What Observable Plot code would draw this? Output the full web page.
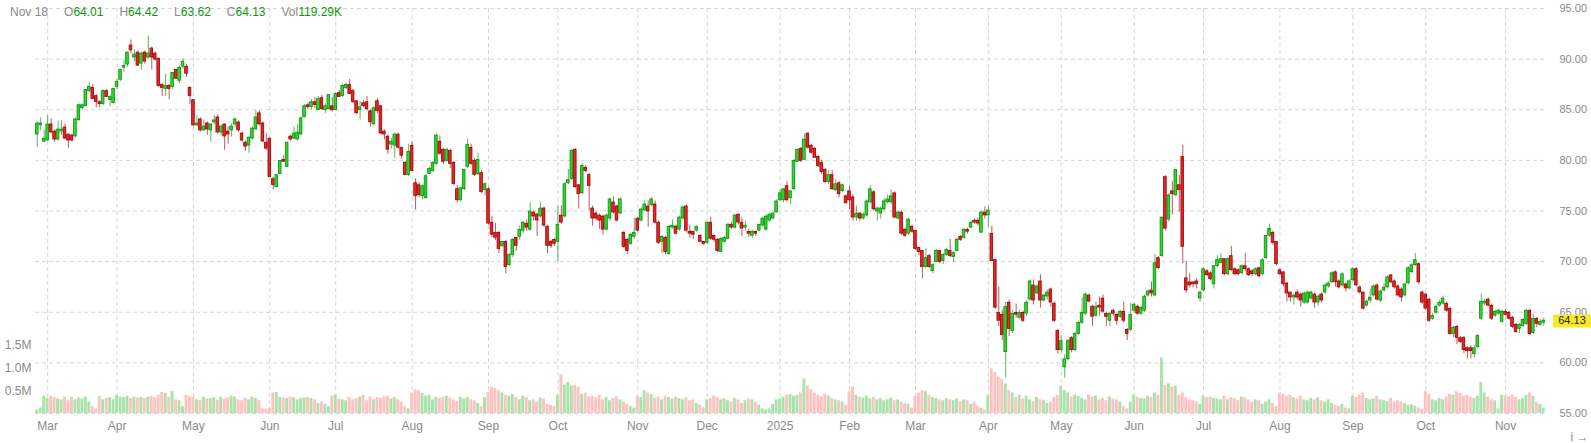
<!DOCTYPE html>
<html><head><meta charset="utf-8">
<script src="https://cdn.jsdelivr.net/npm/d3@7"></script>
<script src="https://cdn.jsdelivr.net/npm/@observablehq/plot@0.6"></script>
<style>
body{margin:0;background:#fff;font-family:Arial,"Liberation Sans",sans-serif;}
#wrap{position:relative;width:1591px;height:443px;}
#legend{position:absolute;left:10px;top:5px;font-size:12px;color:#8a8a8a;white-space:nowrap;}
#legend .k{margin-left:16px;}
#legend .v{color:#0a9a0a;}
</style></head><body><div id="wrap"><div id="legend"></div></div>
<script>
// Daily candles [open, high, low, close] per month
const feb24 = [[82.6,83.8,81.3,83.6],[83.5,84.2,82.9,83.6],[81.9,83.0,81.7,82.1]];
const mar24 = [[82.0,84.4,81.9,83.5],[83.5,84.1,82.6,82.8],[82.8,83.0,81.8,82.1],[82.1,83.9,81.9,83.0],[82.9,83.9,82.5,83.0],[83.2,83.6,82.0,82.2],[82.5,82.6,81.2,82.0],[82.4,82.6,81.8,82.0],[82.4,84.2,82.2,84.0],[84.0,85.6,83.9,85.4],[85.2,85.6,85.0,85.4],[85.4,87.0,85.3,86.9],[86.9,87.7,86.7,87.2],[87.1,87.5,86.0,86.1],[86.3,86.5,85.2,85.8],[85.7,85.9,85.2,85.6],[85.6,87.0,85.4,86.8],[86.8,87.0,86.2,86.3],[86.0,86.4,85.3,86.2],[85.7,87.1,85.6,87.0]];
const apr24 = [[87.3,88.0,87.0,87.7],[88.0,89.0,87.8,88.9],[89.2,89.9,88.7,89.3],[89.5,90.7,89.2,90.6],[91.3,91.9,90.5,90.9],[90.2,90.9,89.7,90.4],[90.6,90.8,89.3,89.4],[89.6,90.7,88.9,90.5],[90.6,90.8,89.5,89.8],[90.2,92.3,90.0,90.5],[91.0,91.2,88.9,90.2],[90.5,90.7,89.8,90.0],[90.0,90.1,87.2,87.4],[87.4,87.6,86.3,87.2],[87.1,88.5,86.3,87.3],[87.3,87.5,86.0,87.1],[87.3,88.6,87.0,88.6],[88.9,89.0,88.0,88.1],[87.9,89.3,87.6,89.1],[89.3,90.0,89.0,89.7],[89.2,89.5,88.2,88.6],[87.1,87.3,85.5,86.4]];
const may24 = [[85.9,86.0,83.3,83.5],[83.5,84.4,83.3,83.6],[84.0,84.2,82.8,83.0],[83.0,84.0,82.9,83.3],[83.6,83.8,82.5,83.1],[83.0,83.6,81.8,83.5],[83.8,84.4,83.5,83.9],[84.2,84.5,82.6,82.8],[82.8,83.5,82.4,83.3],[83.5,83.6,81.0,82.4],[82.8,83.3,81.6,82.6],[83.0,83.6,82.3,83.3],[83.6,84.2,83.2,84.0],[83.7,83.9,82.8,83.0],[82.6,82.8,81.8,82.0],[81.7,81.9,80.9,81.4],[81.5,82.3,80.7,82.2],[82.2,83.3,82.0,83.1],[83.1,84.9,83.0,84.2],[84.6,84.9,83.4,83.6],[83.6,83.8,81.8,81.9],[81.7,82.6,81.0,81.2]];
const jun24 = [[82.1,82.2,78.3,78.4],[78.1,78.3,77.1,77.6],[77.4,78.6,77.3,78.5],[78.7,80.0,78.6,79.9],[80.0,80.5,79.8,79.9],[79.4,81.8,79.3,81.7],[82.3,82.5,81.9,82.1],[82.2,83.3,82.0,82.6],[82.1,83.5,81.9,82.7],[82.6,84.3,82.4,84.1],[84.3,85.5,84.2,85.3],[85.4,85.7,85.0,85.3],[85.3,86.0,85.0,85.7],[85.7,86.2,85.1,85.5],[85.0,86.3,84.9,86.0],[86.1,86.4,84.9,85.1],[85.0,85.6,84.6,85.3],[85.1,86.5,85.0,86.4],[85.3,86.2,84.8,85.0]];
const jul24 = [[85.0,86.7,84.9,86.5],[86.6,86.9,86.2,86.3],[86.4,87.5,86.2,87.3],[87.2,87.6,87.0,87.4],[87.4,88.0,86.5,86.6],[86.8,87.0,85.6,85.8],[85.8,85.9,84.5,84.7],[85.0,85.8,84.0,85.2],[85.6,85.9,85.2,85.4],[85.7,86.3,84.9,85.1],[84.8,85.0,83.3,83.8],[83.6,85.3,83.4,85.1],[85.8,86.1,84.6,84.9],[85.3,85.4,82.5,82.7],[82.8,83.0,82.0,82.6],[82.3,82.5,80.6,81.1],[81.6,82.2,81.1,81.8],[81.5,82.7,80.2,82.5],[82.5,82.7,81.1,81.3],[81.2,81.3,80.1,80.5],[79.7,79.9,78.5,78.6],[78.6,81.6,78.4,80.8]];
const aug24 = [[81.4,81.8,78.9,79.0],[77.7,78.2,75.1,76.5],[77.5,77.8,76.3,76.6],[76.5,77.6,76.1,77.4],[76.3,78.6,76.2,78.4],[78.7,79.3,78.6,79.1],[79.0,79.9,78.8,79.7],[79.7,82.6,79.5,82.4],[81.8,82.4,80.5,80.7],[81.0,81.2,79.6,79.9],[80.0,81.2,79.8,81.0],[80.9,81.1,79.2,79.7],[79.7,79.9,77.5,77.7],[77.1,77.5,75.8,76.1],[76.1,77.3,75.9,77.2],[77.2,79.1,77.0,79.0],[79.4,82.1,79.2,81.5],[81.2,81.6,79.5,79.7],[79.9,80.2,78.4,78.6],[78.7,80.7,78.5,80.0],[78.7,79.0,76.7,76.9],[77.1,77.8,76.5,77.6]];
const sep24 = [[77.1,77.3,73.6,73.8],[73.8,74.5,72.4,72.7],[72.8,73.8,72.1,72.4],[72.8,73.0,70.8,71.3],[71.6,72.0,71.4,71.9],[71.9,72.1,68.8,69.5],[69.7,70.8,69.5,70.6],[70.7,72.3,70.4,72.1],[72.3,72.4,71.0,71.6],[72.5,73.5,72.1,73.1],[73.1,74.0,72.8,73.8],[73.7,74.1,73.0,73.4],[73.2,75.8,73.0,74.9],[74.8,75.0,74.0,74.5],[74.6,74.8,72.5,74.1],[74.5,75.9,74.3,75.2],[75.2,75.4,73.4,73.6],[73.4,73.6,70.8,71.6],[71.9,72.1,71.3,71.6],[72.1,72.3,71.5,71.8]];
const oct24 = [[72.0,75.5,70.0,73.6],[74.5,75.5,73.7,73.9],[74.5,77.8,74.3,77.6],[77.8,79.1,77.6,78.0],[78.2,81.1,78.0,80.9],[81.0,81.2,77.2,77.4],[77.5,77.6,75.2,76.7],[76.8,79.7,76.6,79.4],[79.2,79.5,78.8,79.0],[78.5,78.7,75.0,77.5],[75.2,75.5,73.5,74.3],[74.7,74.9,74.0,74.3],[74.5,74.7,73.2,74.1],[74.4,74.6,72.6,73.2],[73.2,74.7,73.0,74.5],[74.3,76.3,74.0,76.1],[75.8,76.4,74.7,74.9],[75.4,75.6,73.9,74.1],[74.8,76.3,74.6,76.1],[72.8,73.0,71.3,71.5],[72.1,72.3,70.7,71.1],[71.8,72.8,71.6,72.6],[72.5,74.3,72.2,72.8]];
const nov24 = [[74.2,74.4,72.9,73.1],[74.1,75.3,73.9,75.1],[75.1,76.1,75.0,75.6],[75.4,76.0,73.4,75.0],[75.6,76.3,75.4,76.1],[75.6,76.0,73.7,73.9],[73.8,74.0,71.7,71.9],[72.0,72.6,70.8,72.4],[72.3,72.5,70.7,71.0],[70.8,73.6,70.6,73.4],[73.4,74.1,73.2,73.5],[73.4,73.6,72.6,72.8],[73.2,74.5,73.0,74.3],[74.3,75.5,74.1,75.3],[75.4,75.6,72.9,73.1],[72.9,73.6,72.3,72.8],[72.9,73.0,72.2,72.7],[73.1,73.5,72.9,73.4],[72.5,72.7,71.9,72.0],[71.9,72.0,71.6,71.8]];
const dec24 = [[71.9,73.9,71.7,73.8],[73.8,74.4,72.1,72.3],[72.5,72.6,71.9,72.2],[72.1,72.3,70.9,71.1],[71.0,72.4,70.9,72.2],[72.0,72.5,71.8,72.3],[72.3,73.8,72.2,73.6],[73.6,73.9,73.2,73.4],[73.4,74.7,73.2,74.5],[74.6,74.7,73.6,73.9],[73.8,74.3,72.5,73.3],[73.4,74.0,73.0,73.5],[72.9,73.2,72.4,72.8],[72.6,73.1,72.3,72.9],[72.9,73.0,72.5,72.8],[73.1,73.7,73.0,73.6],[73.6,74.4,73.4,74.2],[73.2,74.6,73.0,74.4],[74.1,74.8,73.9,74.6],[74.3,74.9,74.1,74.7],[74.9,76.1,74.8,75.9]];
const jan25 = [[76.1,77.1,75.9,76.7],[76.1,77.2,75.8,77.1],[77.4,77.9,75.9,76.1],[76.3,77.0,75.6,76.9],[77.2,80.1,77.0,79.9],[79.9,81.1,79.8,81.0],[81.1,81.3,79.8,80.0],[80.1,82.6,80.0,82.0],[82.6,82.7,81.1,81.3],[81.4,81.6,80.6,80.8],[81.1,81.3,80.2,80.3],[80.3,80.5,79.3,79.5],[79.7,80.0,78.6,78.9],[79.0,79.2,77.7,77.9],[77.9,79.0,77.6,78.5],[78.5,79.0,77.0,77.2],[77.1,78.1,76.9,77.6],[77.7,77.9,76.3,76.7],[77.0,77.6,76.8,77.5],[76.4,76.6,75.7,75.8]];
const feb25 = [[76.9,77.4,75.1,76.1],[76.3,76.6,74.0,74.4],[74.4,75.5,74.0,74.7],[74.7,74.9,74.0,74.3],[74.3,74.8,74.1,74.6],[74.6,76.1,74.4,75.9],[75.9,77.5,75.7,77.1],[76.8,77.0,75.0,75.2],[75.0,75.4,74.0,75.2],[74.8,75.4,74.2,75.2],[75.2,76.2,75.0,75.9],[75.9,76.6,75.7,76.1],[75.9,77.1,75.6,76.4],[76.7,76.9,74.2,74.4],[74.3,75.0,74.1,74.8],[74.8,75.0,72.6,72.8],[73.1,73.3,72.4,72.6],[72.8,74.3,72.6,74.1],[73.4,73.6,72.8,73.0]];
const mar25 = [[73.0,73.1,71.1,71.3],[71.3,71.4,70.6,71.0],[71.0,71.1,68.3,69.5],[69.5,71.3,69.3,70.3],[70.5,70.7,69.3,69.5],[69.1,69.8,68.8,69.6],[70.0,71.2,69.9,71.0],[71.0,71.1,69.8,70.0],[70.1,70.8,69.7,70.6],[70.7,71.3,70.5,71.1],[71.0,72.2,70.4,70.6],[70.5,71.0,69.9,70.8],[71.1,72.3,71.0,72.1],[72.4,72.6,72.0,72.2],[72.4,73.3,72.2,73.1],[73.1,73.3,72.7,73.0],[73.4,74.0,73.3,73.8],[74.0,74.2,73.7,73.9],[74.0,74.3,73.5,73.8],[72.9,75.0,72.8,74.8],[74.8,75.4,74.2,74.6]];
const apr25 = [[74.6,75.4,73.4,75.0],[72.7,73.5,70.0,70.1],[70.1,70.2,65.3,65.5],[64.9,67.5,63.6,64.2],[64.7,65.2,62.2,62.8],[61.1,66.0,58.5,65.5],[65.9,66.2,62.6,63.4],[63.2,65.2,62.9,64.8],[64.9,65.8,64.4,64.8],[64.5,65.2,64.3,64.9],[64.9,65.1,64.0,64.2],[64.9,66.1,64.6,65.9],[66.3,68.2,66.1,68.0],[67.6,68.2,65.7,66.2],[66.9,67.7,66.7,67.5],[68.0,68.7,65.4,66.2],[66.2,66.8,66.0,66.6],[66.6,67.2,66.2,66.9],[67.2,67.4,65.5,66.0],[65.8,66.0,64.0,64.2],[63.1,63.3,60.9,61.3]];
const may25 = [[61.3,62.7,61.0,62.1],[59.6,60.8,58.5,60.3],[60.4,62.3,60.2,62.1],[62.4,62.6,61.0,61.3],[61.3,63.0,61.1,62.8],[62.9,64.1,62.7,63.9],[64.0,66.4,63.8,64.9],[64.9,66.9,64.7,66.7],[66.6,66.8,65.9,66.1],[65.5,65.7,63.6,64.6],[64.7,66.0,64.5,65.5],[65.6,66.5,64.6,65.5],[66.3,66.7,64.9,65.1],[64.8,65.0,63.6,64.6],[64.2,65.0,63.6,64.8],[65.1,65.3,64.6,64.9],[64.7,64.9,63.7,64.2],[64.6,65.2,64.4,65.0],[65.0,66.0,63.9,64.2],[63.2,63.4,62.2,62.9],[63.3,65.9,63.1,64.7]];
const jun25 = [[65.2,65.9,64.9,65.7],[65.5,65.7,64.7,64.9],[64.9,65.6,64.7,65.4],[65.2,66.7,65.0,66.5],[66.7,67.2,66.5,67.0],[67.1,68.0,66.5,66.9],[66.7,70.7,66.5,69.8],[70.3,70.5,69.2,69.4],[70.6,74.4,70.4,74.3],[78.3,78.5,73.0,73.3],[74.2,76.7,73.9,76.5],[76.9,77.9,74.6,76.7],[76.6,79.1,76.4,79.0],[77.5,78.5,74.9,77.1],[80.3,81.5,69.8,71.5],[68.3,70.0,66.9,67.2],[67.9,68.8,67.4,67.7],[67.9,68.0,67.4,67.8],[68.0,68.3,67.3,67.8],[66.4,67.1,66.0,66.9]];
const jul25 = [[67.2,69.4,67.0,69.2],[69.0,69.2,68.5,68.7],[68.8,69.0,68.1,68.3],[67.8,69.6,67.3,69.5],[69.6,70.6,69.4,70.1],[69.9,70.8,69.8,70.2],[70.2,70.3,68.6,68.8],[68.8,70.4,68.6,70.2],[70.5,71.5,69.0,69.2],[69.2,69.4,68.6,68.8],[69.1,69.3,68.6,68.8],[68.9,69.7,68.7,69.5],[69.5,70.8,69.0,69.3],[69.2,69.4,68.5,68.7],[69.0,69.2,68.5,68.8],[68.8,69.4,68.6,69.2],[69.3,69.4,68.4,68.6],[68.8,70.3,68.6,70.1],[70.4,72.6,70.2,72.5],[72.6,73.7,72.4,73.2],[72.8,73.0,71.6,71.9],[71.9,72.0,69.6,69.8]];
const aug25 = [[69.1,69.3,68.6,68.8],[68.9,69.0,67.5,67.8],[67.8,67.9,66.0,66.9],[66.9,67.0,66.0,66.5],[66.5,66.8,65.7,66.6],[66.9,67.2,66.2,66.5],[66.7,66.9,65.5,66.2],[66.0,67.0,65.8,66.8],[66.0,67.1,65.8,66.9],[66.4,67.1,66.2,66.9],[66.7,66.9,65.4,66.0],[66.0,66.7,65.6,66.5],[66.7,66.9,65.9,66.2],[67.0,67.8,66.8,67.6],[67.6,68.0,67.4,67.8],[68.0,69.0,67.8,68.8],[68.9,69.1,67.5,68.0],[68.0,68.2,67.3,67.5],[67.7,68.9,67.5,68.7],[67.7,67.9,67.0,67.4],[67.4,68.2,67.2,68.0]];
const sep25 = [[68.2,69.4,68.0,69.2],[69.2,69.4,67.5,67.7],[67.4,67.6,66.8,67.0],[66.9,67.0,65.2,65.4],[65.7,66.2,65.5,66.0],[66.2,67.3,65.9,66.4],[66.7,67.7,66.5,67.5],[67.6,67.8,66.1,66.3],[66.2,67.2,65.9,67.0],[67.2,67.8,67.0,67.4],[67.5,68.6,67.3,68.4],[68.6,68.7,67.8,68.0],[68.0,68.2,67.3,67.5],[67.5,67.7,66.5,66.7],[67.2,67.4,66.0,66.5],[66.7,67.9,66.5,67.7],[67.9,69.5,67.7,69.3],[69.0,69.8,68.8,69.6],[69.7,70.8,69.5,70.1],[69.7,69.9,67.7,68.0],[66.9,67.1,65.8,66.0]];
const oct25 = [[66.7,66.9,65.2,65.4],[66.2,66.4,64.0,64.2],[64.4,64.9,64.2,64.6],[65.0,65.7,64.8,65.5],[65.7,66.2,65.5,65.9],[65.9,66.6,65.7,66.3],[65.8,66.0,65.0,65.2],[65.3,65.5,62.7,62.9],[62.9,63.6,62.5,63.4],[63.5,63.7,61.8,62.5],[62.4,62.6,61.9,62.1],[62.4,62.6,60.9,61.3],[61.4,61.6,60.4,61.2],[61.4,61.7,60.4,61.2],[60.9,61.7,60.5,61.4],[61.6,62.8,61.4,62.6],[64.4,66.8,64.2,66.0],[65.9,66.3,65.6,66.0],[66.2,66.4,65.5,65.7],[65.6,65.8,64.2,64.4],[64.7,65.2,64.5,65.0],[64.9,65.3,64.7,65.1],[64.1,65.2,63.9,65.0]];
const nov25 = [[65.0,65.3,64.6,64.8],[64.9,65.1,64.2,64.4],[64.4,64.6,63.4,63.6],[63.7,63.9,62.9,63.1],[63.4,63.9,62.9,63.7],[63.7,64.4,63.5,64.2],[63.9,65.3,63.7,65.1],[65.1,65.3,62.7,62.9],[63.0,64.8,62.8,64.3],[64.3,64.5,63.5,63.9],[63.8,64.3,63.6,64.0],[64.01,64.42,63.62,64.13]];

// Daily volume per month, millions of shares
const volFeb24 = [0.08,0.12,0.38];
const volMar24 = [0.33,0.38,0.35,0.32,0.30,0.36,0.28,0.35,0.30,0.34,0.32,0.36,0.25,0.15,0.10,0.38,0.30,0.33,0.35,0.30];
const volApr24 = [0.40,0.36,0.35,0.38,0.33,0.36,0.34,0.35,0.33,0.36,0.38,0.35,0.40,0.46,0.44,0.35,0.48,0.30,0.28,0.15,0.40,0.37];
const volMay24 = [0.35,0.30,0.28,0.36,0.32,0.33,0.35,0.30,0.36,0.32,0.34,0.38,0.36,0.30,0.28,0.34,0.30,0.36,0.33,0.28,0.10,0.10];
const volJun24 = [0.12,0.45,0.46,0.35,0.34,0.33,0.36,0.35,0.30,0.33,0.34,0.35,0.33,0.30,0.22,0.25,0.20,0.15,0.38];
const volJul24 = [0.40,0.32,0.30,0.28,0.35,0.30,0.33,0.36,0.40,0.28,0.36,0.30,0.35,0.33,0.36,0.38,0.32,0.35,0.30,0.25,0.15,0.10];
const volAug24 = [0.45,0.52,0.50,0.44,0.38,0.40,0.30,0.36,0.33,0.35,0.38,0.34,0.30,0.26,0.36,0.32,0.35,0.30,0.28,0.22,0.15,0.35];
const volSep24 = [0.46,0.58,0.55,0.50,0.45,0.40,0.38,0.42,0.36,0.30,0.38,0.35,0.28,0.30,0.25,0.34,0.32,0.20,0.18,0.15];
const volOct24 = [0.40,0.85,0.62,0.68,0.60,0.62,0.58,0.42,0.45,0.36,0.38,0.34,0.40,0.30,0.35,0.28,0.33,0.36,0.30,0.25,0.20,0.15,0.12];
const volNov24 = [0.38,0.35,0.50,0.45,0.42,0.33,0.36,0.30,0.38,0.35,0.32,0.36,0.33,0.30,0.34,0.28,0.30,0.22,0.18,0.12];
const volDec24 = [0.30,0.33,0.38,0.35,0.30,0.32,0.28,0.25,0.33,0.30,0.22,0.28,0.32,0.30,0.25,0.18,0.10,0.08,0.10,0.20,0.30];
const volJan25 = [0.32,0.36,0.40,0.42,0.38,0.40,0.45,0.76,0.60,0.52,0.45,0.40,0.36,0.42,0.38,0.33,0.30,0.28,0.25,0.18];
const volFeb25 = [0.48,0.58,0.40,0.36,0.34,0.38,0.32,0.36,0.30,0.33,0.28,0.30,0.34,0.28,0.30,0.25,0.22,0.20,0.12];
const volMar25 = [0.38,0.45,0.50,0.48,0.40,0.35,0.33,0.30,0.28,0.33,0.30,0.28,0.32,0.26,0.30,0.28,0.20,0.25,0.16,0.12,0.08];
const volApr25 = [0.40,0.98,0.90,0.80,0.75,0.65,0.50,0.45,0.35,0.40,0.32,0.38,0.30,0.26,0.35,0.30,0.28,0.22,0.25,0.35,0.40];
const volMay25 = [0.60,0.50,0.45,0.36,0.40,0.38,0.33,0.30,0.40,0.36,0.38,0.30,0.33,0.28,0.36,0.32,0.30,0.25,0.15,0.10,0.25];
const volJun25 = [0.40,0.36,0.33,0.32,0.38,0.35,0.45,0.40,1.22,0.62,0.65,0.58,0.60,0.40,0.45,0.35,0.30,0.28,0.25,0.20];
const volJul25 = [0.38,0.35,0.36,0.33,0.32,0.30,0.38,0.30,0.35,0.33,0.28,0.36,0.34,0.30,0.25,0.30,0.28,0.20,0.25,0.30,0.22,0.15];
const volAug25 = [0.45,0.42,0.38,0.40,0.35,0.32,0.38,0.30,0.28,0.33,0.30,0.35,0.28,0.25,0.30,0.22,0.18,0.15,0.20,0.12,0.10];
const volSep25 = [0.38,0.35,0.40,0.45,0.33,0.30,0.32,0.38,0.30,0.28,0.26,0.33,0.25,0.28,0.26,0.22,0.18,0.20,0.16,0.12,0.10];
const volOct25 = [0.48,0.42,0.30,0.28,0.33,0.30,0.36,0.42,0.40,0.48,0.44,0.38,0.40,0.36,0.33,0.38,0.68,0.45,0.36,0.30,0.28,0.10,0.40];
const volNov25 = [0.38,0.36,0.40,0.35,0.30,0.33,0.40,0.45,0.38,0.25,0.20,0.11929];

// Month labels (first is the partial month before the first tick)
const monthLabels = [null,"Mar","Apr","May","Jun","Jul","Aug","Sep","Oct","Nov","Dec","2025","Feb","Mar","Apr","May","Jun","Jul","Aug","Sep","Oct","Nov"];
const monthCandles = [feb24,mar24,apr24,may24,jun24,jul24,aug24,sep24,oct24,nov24,dec24,jan25,feb25,mar25,apr25,may25,jun25,jul25,aug25,sep25,oct25,nov25];
const monthVolumes = [volFeb24,volMar24,volApr24,volMay24,volJun24,volJul24,volAug24,volSep24,volOct24,volNov24,volDec24,volJan25,volFeb25,volMar25,volApr25,volMay25,volJun25,volJul25,volAug25,volSep25,volOct25,volNov25];
const priceTicks = [55,60,65,70,75,80,85,90,95];
const volumeTicks = [0.5,1.0,1.5];
const lastDate = "Nov 18";

// build table
const rows = [];
const tickIdx = [], tickLab = [];
monthCandles.forEach((m, k) => {
  if (monthLabels[k]) { tickIdx.push(rows.length); tickLab.push(monthLabels[k]); }
  m.forEach((d, j) => rows.push({i: rows.length, o: d[0], h: d[1], l: d[2], c: d[3], v: monthVolumes[k][j]}));
});
const N = rows.length;
const volUnit = 4.5; // price units per 1M of volume in the lower band
const labelOf = new Map(tickIdx.map((t, k) => [t, tickLab[k]]));
const up = d => d.c >= d.o;

const gridStyle = {stroke: "#d6d6d6", strokeDasharray: "4,3", strokeWidth: 1};

const chart = Plot.plot({
  width: 1591, height: 443,
  marginLeft: 35, marginRight: 46, marginTop: 8, marginBottom: 30,
  style: {fontFamily: "Arial, 'Liberation Sans', sans-serif", fontSize: "12px", color: "#8a8a8a", background: "#fff"},
  x: {type: "linear", domain: [-0.5, N - 0.5]},
  y: {type: "linear", domain: [55, 95]},
  marks: [
    Plot.ruleY(priceTicks, {y: d => d, ...gridStyle}),
    Plot.ruleX(tickIdx, {x: d => d, ...gridStyle}),
    Plot.rect(rows, {x1: d => d.i - 0.42, x2: d => d.i + 0.42, y1: 55, y2: d => 55 + d.v * volUnit,
      fill: d => up(d) ? "#abe2ab" : "#ffc2c2"}),
    Plot.ruleX(rows, {x: "i", y1: "l", y2: "h", strokeWidth: 1,
      stroke: d => up(d) ? "#2a9a2a" : "#a82020", strokeOpacity: 0.75}),
    Plot.rect(rows, {x1: d => d.i - 0.38, x2: d => d.i + 0.38,
      y1: d => Math.min(d.o, d.c) - 0.04, y2: d => Math.max(d.o, d.c) + 0.04,
      fill: d => up(d) ? "#2fd62f" : "#e02828",
      stroke: d => up(d) ? "#0b8f0b" : "#a00000", strokeWidth: 0.8}),
    Plot.axisX(tickIdx, {anchor: "bottom", tickSize: 0, tickPadding: 8, tickFormat: d => labelOf.get(d), fill: "#8a8a8a", fontSize: 12}),
    Plot.axisY(priceTicks, {anchor: "right", tickSize: 0, tickPadding: 14, tickFormat: d => d.toFixed(2), fill: "#8a8a8a", fontSize: 11}),
    Plot.axisY(volumeTicks.map(v => 55 + v * volUnit), {anchor: "left", tickSize: 0, tickPadding: 4,
      tickFormat: d => ((d - 55) / volUnit).toFixed(1) + "M", fill: "#8a8a8a", fontSize: 12})
  ]
});
document.getElementById("wrap").prepend(chart);

// last price tag placed through the y scale
const last = rows[N - 1];
const yLast = chart.scale("y").apply(last.c);
const svg = d3.select(chart);
const g = svg.append("g");
g.append("rect").attr("x", 1553).attr("y", yLast - 6).attr("width", 38).attr("height", 13).attr("fill", "#f7e92b");
g.append("text").attr("x", 1572).attr("y", yLast + 1).attr("dominant-baseline", "middle").attr("text-anchor", "middle")
  .attr("font-size", 11).attr("fill", "#222").text(last.c.toFixed(2));

// legend
const fmt = v => v.toFixed(2);
const volK = (last.v * 1000).toFixed(2) + "K";
document.getElementById("legend").innerHTML =
  `<span>${lastDate}</span><span class="k">O</span><span class="v">${fmt(last.o)}</span>` +
  `<span class="k">H</span><span class="v">${fmt(last.h)}</span>` +
  `<span class="k">L</span><span class="v">${fmt(last.l)}</span>` +
  `<span class="k">C</span><span class="v">${fmt(last.c)}</span>` +
  `<span class="k">Vol</span><span class="v">${volK}</span>`;
</script></body></html>
